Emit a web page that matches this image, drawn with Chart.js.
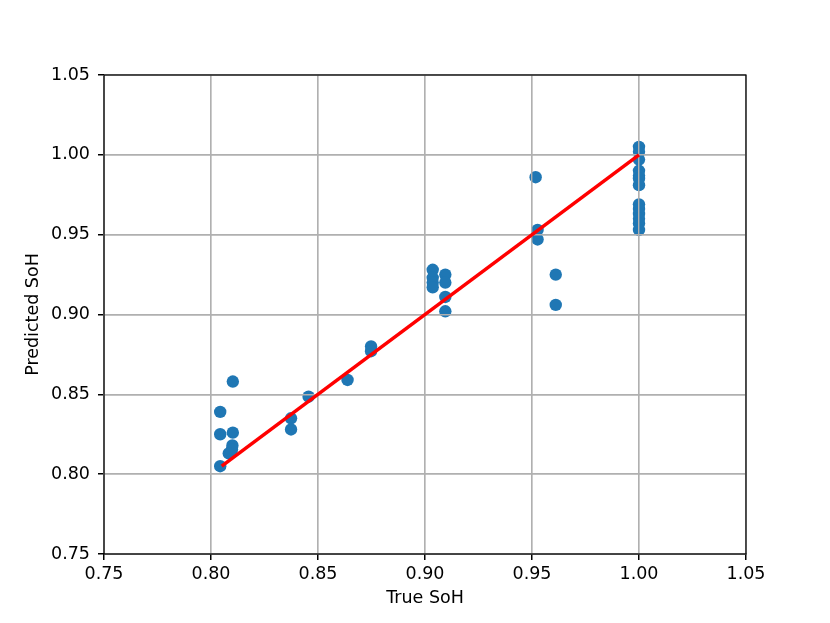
<!DOCTYPE html>
<html>
<head>
<meta charset="utf-8">
<script src="https://cdn.jsdelivr.net/npm/chart.js@4/dist/chart.umd.min.js"></script>
<style>
html,body{margin:0;padding:0;background:#fff;}
canvas{display:block;}
</style>
</head>
<body>
<canvas id="c" width="830" height="623"></canvas>
<script>
// True SoH (x) and predicted SoH (y) for each test sample
const trueSoH = [
  0.8043, 0.8043, 0.8043,
  0.8102, 0.8102, 0.8100, 0.8098, 0.8083,
  0.8374, 0.8374,
  0.8456,
  0.8638,
  0.8748, 0.8748,
  0.9036, 0.9036, 0.9036, 0.9036,
  0.9095, 0.9095, 0.9095, 0.9095,
  0.9517, 0.9526, 0.9526,
  0.9611, 0.9611,
  1.0, 1.0, 1.0, 1.0, 1.0, 1.0, 1.0,
  1.0, 1.0, 1.0, 1.0, 1.0, 1.0
];
const predSoH = [
  0.839, 0.825, 0.805,
  0.858, 0.826, 0.818, 0.8155, 0.813,
  0.835, 0.828,
  0.8485,
  0.859,
  0.880, 0.877,
  0.928, 0.923, 0.920, 0.917,
  0.925, 0.920, 0.911, 0.902,
  0.986, 0.953, 0.947,
  0.925, 0.906,
  1.005, 1.002, 0.997, 0.990, 0.987, 0.985, 0.981,
  0.969, 0.966, 0.963, 0.960, 0.957, 0.953
];
// Ideal y = x reference line over the range of true SoH
const idealX = [0.805, 1.0];
const idealY = [0.805, 1.0];
// Tick values
const xTicks = [0.75, 0.80, 0.85, 0.90, 0.95, 1.00, 1.05];
const yTicks = [0.75, 0.80, 0.85, 0.90, 0.95, 1.00, 1.05];

const FONT = '"DejaVu Sans", sans-serif';
const FS = 17.5;
const scatterData = trueSoH.map((x, i) => ({x: x, y: predSoH[i]}));
const lineData = idealX.map((x, i) => ({x: x, y: idealY[i]}));

const gridOverPoints = {
  id: 'gridOverPoints',
  afterDatasetDraw(chart, args) {
    if (args.index === 1) {
      chart.scales.x.drawGrid(chart.chartArea);
      chart.scales.y.drawGrid(chart.chartArea);
    }
  },
  afterDraw(chart) {
    const a = chart.chartArea, ctx = chart.ctx;
    ctx.save();
    ctx.strokeStyle = '#000';
    ctx.lineWidth = 1.2;
    ctx.strokeRect(a.left, a.top, a.right - a.left, a.bottom - a.top);
    ctx.restore();
  }
};

new Chart(document.getElementById('c'), {
  type: 'scatter',
  data: {
    datasets: [
      {
        type: 'line',
        data: lineData,
        borderColor: '#ff0000',
        borderWidth: 3.5,
        pointRadius: 0,
        fill: false,
        order: 0
      },
      {
        type: 'scatter',
        data: scatterData,
        backgroundColor: '#1f77b4',
        borderWidth: 0,
        pointRadius: 6.2,
        pointHoverRadius: 6.2,
        order: 1
      }
    ]
  },
  options: {
    responsive: false,
    animation: false,
    devicePixelRatio: 1,
    layout: {padding: {top: 75, right: 84, bottom: 0, left: 0}},
    plugins: {legend: {display: false}, tooltip: {enabled: false}},
    scales: {
      x: {
        type: 'linear',
        min: 0.75, max: 1.05,
        afterBuildTicks: s => { s.ticks = xTicks.map(v => ({value: v})); },
        afterFit: s => { s.height = 69; },
        ticks: {
          callback: v => Number(v).toFixed(2),
          font: {family: FONT, size: FS},
          color: '#000',
          padding: 4,
          maxRotation: 0,
          autoSkip: false
        },
        grid: {color: '#b0b0b0', lineWidth: 1.4, tickColor: '#000', tickLength: 6, tickWidth: 1.2},
        border: {display: true, color: '#000', width: 1.2},
        title: {display: true, text: 'True SoH', font: {family: FONT, size: FS}, color: '#000', padding: {top: 0, bottom: 14}}
      },
      y: {
        type: 'linear',
        min: 0.75, max: 1.05,
        afterBuildTicks: s => { s.ticks = yTicks.map(v => ({value: v})); },
        afterFit: s => { s.width = 104; },
        ticks: {
          callback: v => Number(v).toFixed(2),
          font: {family: FONT, size: FS},
          color: '#000',
          padding: 8,
          autoSkip: false
        },
        grid: {color: '#b0b0b0', lineWidth: 1.4, tickColor: '#000', tickLength: 6, tickWidth: 1.2},
        border: {display: true, color: '#000', width: 1.2},
        title: {display: true, text: 'Predicted SoH', font: {family: FONT, size: FS}, color: '#000', padding: {top: 23, bottom: 0}}
      }
    }
  },
  plugins: [gridOverPoints]
});
</script>
</body>
</html>
